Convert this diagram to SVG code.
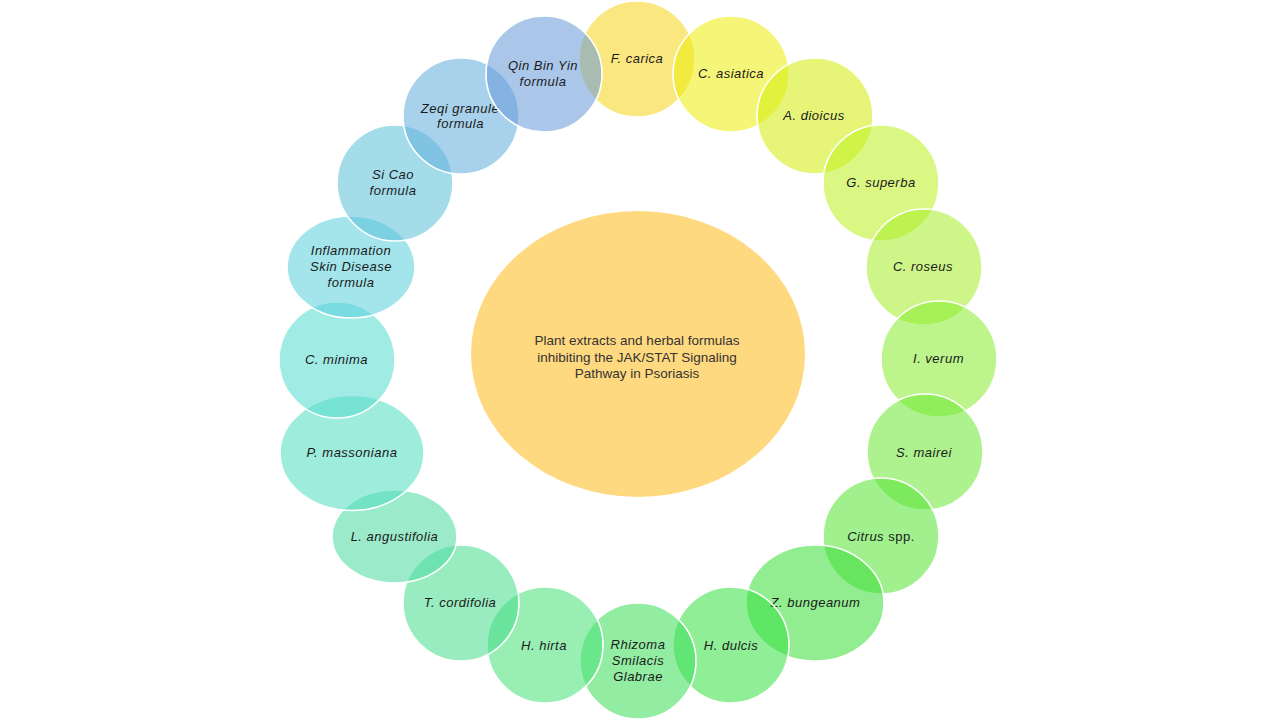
<svg xmlns="http://www.w3.org/2000/svg" width="1280" height="720" viewBox="0 0 1280 720">
<style>
.n{fill-opacity:0.56;stroke:#ffffff;stroke-width:1.6}
.t{font-family:"Liberation Sans",Arial,sans-serif;font-size:13px;font-style:italic;letter-spacing:0.5px;fill:#1a1a1a;text-anchor:middle}
.c{font-family:"Liberation Sans",Arial,sans-serif;font-size:13.5px;fill:#333333;text-anchor:middle}
.up{font-style:normal}
</style>
<rect width="1280" height="720" fill="#ffffff"/>
<g id="center">
<ellipse cx="638" cy="354" rx="167" ry="143" fill="#FFD97F"/>
<text class="c" x="637" y="344.5">Plant extracts and herbal formulas</text>
<text class="c" x="637" y="361.5">inhibiting the JAK/STAT Signaling</text>
<text class="c" x="637" y="378">Pathway in Psoriasis</text>
</g>
<g id="connectors"></g>
<g id="n-fcarica"><circle class="n" cx="637" cy="59" r="58" fill="#F8D51C"/><text class="t" x="637" y="62.5">F. carica</text></g>
<g id="n-casiatica"><circle class="n" cx="731" cy="74" r="58" fill="#EDED0D"/><text class="t" x="731" y="77.5">C. asiatica</text></g>
<g id="n-adioicus"><circle class="n" cx="815" cy="116" r="58" fill="#D2ED0D"/><text class="t" x="814" y="120">A. dioicus</text></g>
<g id="n-gsuperba"><circle class="n" cx="881" cy="183" r="58" fill="#BEF021"/><text class="t" x="881" y="187">G. superba</text></g>
<g id="n-croseus"><circle class="n" cx="924" cy="267" r="58" fill="#A8ED2A"/><text class="t" x="923" y="271">C. roseus</text></g>
<g id="n-iverum"><circle class="n" cx="939" cy="359" r="58" fill="#89ED32"/><text class="t" x="938.5" y="363">I. verum</text></g>
<g id="n-smairei"><circle class="n" cx="925" cy="452" r="58" fill="#6CE735"/><text class="t" x="924" y="456.5">S. mairei</text></g>
<g id="n-citrus"><circle class="n" cx="881" cy="536" r="58" fill="#56E435"/><text class="t" x="881" y="541">Citrus <tspan class="up">spp.</tspan></text></g>
<g id="n-zbungeanum"><ellipse class="n" cx="815" cy="603" rx="69" ry="58" fill="#3CDE39"/><text class="t" x="815.5" y="607">Z. bungeanum</text></g>
<g id="n-hdulcis"><circle class="n" cx="731" cy="645" r="58" fill="#39E044"/><text class="t" x="731" y="650">H. dulcis</text></g>
<g id="n-rhizoma"><circle class="n" cx="638" cy="661" r="58" fill="#3CDE5A"/><text class="t" x="638" y="648.5">Rhizoma</text><text class="t" x="638" y="664.5">Smilacis</text><text class="t" x="638" y="680.5">Glabrae</text></g>
<g id="n-hhirta"><circle class="n" cx="545" cy="645" r="58" fill="#49E278"/><text class="t" x="544" y="650">H. hirta</text></g>
<g id="n-tcordifolia"><circle class="n" cx="461" cy="603" r="58" fill="#47DE8C"/><text class="t" x="460" y="607">T. cordifolia</text></g>
<g id="n-langustifolia"><ellipse class="n" cx="394.5" cy="536.5" rx="62.5" ry="46.5" fill="#4DDBA2"/><text class="t" x="394.5" y="541">L. angustifolia</text></g>
<g id="n-pmassoniana"><ellipse class="n" cx="352" cy="453" rx="72" ry="57.5" fill="#52DEBF"/><text class="t" x="352" y="457">P. massoniana</text></g>
<g id="n-cminima"><circle class="n" cx="337" cy="360" r="58" fill="#58DBD0"/><text class="t" x="336.5" y="363.5">C. minima</text></g>
<g id="n-inflammation"><ellipse class="n" cx="351" cy="267" rx="64" ry="51" fill="#5BD0DB"/><text class="t" x="351" y="254.5">Inflammation</text><text class="t" x="351" y="270.5">Skin Disease</text><text class="t" x="351" y="286.5">formula</text></g>
<g id="n-sicao"><circle class="n" cx="395" cy="183" r="58" fill="#5DC1D9"/><text class="t" x="393" y="179">Si Cao</text><text class="t" x="393" y="195">formula</text></g>
<g id="n-zeqi"><circle class="n" cx="461" cy="116" r="58" fill="#63AFDB"/><text class="t" x="460" y="112.5">Zeqi granule</text><text class="t" x="460.5" y="128">formula</text></g>
<g id="n-qinbinyin"><circle class="n" cx="544" cy="74" r="58" fill="#689BD9"/><text class="t" x="543" y="69.5">Qin Bin Yin</text><text class="t" x="543" y="85.5">formula</text></g>
</svg>
